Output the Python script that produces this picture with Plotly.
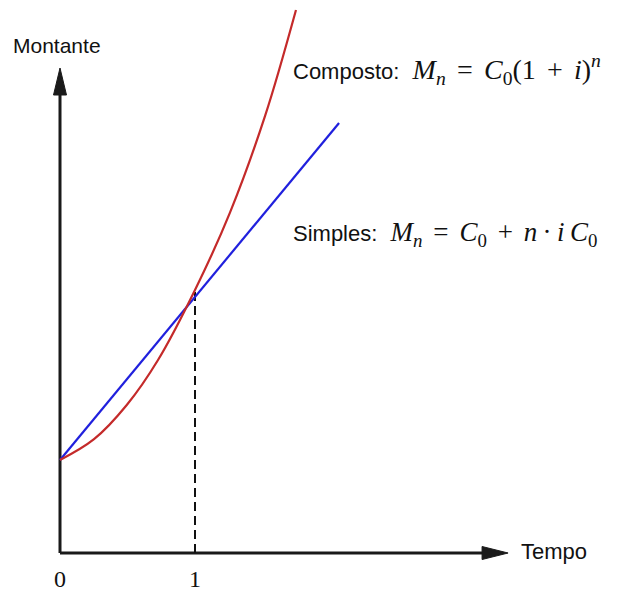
import plotly.graph_objects as go

# Data (time units, amount units with C0 = 1)
composto_t = [0.0, 0.252, 0.496, 0.726, 1.0, 1.259, 1.519, 1.748]
composto_m = [1.0, 1.224, 1.594, 2.075, 2.828, 3.66, 4.70, 5.839]
simples_t = [0.0, 2.067]
simples_m = [1.0, 4.624]
tick_vals = [0, 1]
tick_labels = ["0", "1"]
x_axis_end = 3.319
y_axis_end = 5.215

AX = "#1a1a1a"
fig = go.Figure()

# axes lines (end at arrow base)
fig.add_trace(go.Scatter(x=[0, x_axis_end - 0.15], y=[0, 0], mode="lines",
                         line=dict(color=AX, width=3), hoverinfo="skip", showlegend=False))
fig.add_trace(go.Scatter(x=[0, 0], y=[0, y_axis_end - 0.2], mode="lines",
                         line=dict(color=AX, width=3), hoverinfo="skip", showlegend=False))

# dashed line at t=1
fig.add_trace(go.Scatter(x=[1, 1], y=[0, composto_m[4]], mode="lines",
                         line=dict(color="#111111", width=2, dash="9px,5px"),
                         hoverinfo="skip", showlegend=False))

fig.add_trace(go.Scatter(x=simples_t, y=simples_m, mode="lines",
                         line=dict(color="#2020dd", width=2.2), showlegend=False))
fig.add_trace(go.Scatter(x=composto_t, y=composto_m, mode="lines",
                         line=dict(color="#c42a2a", width=2.2, shape="spline", smoothing=1.0),
                         showlegend=False))

# arrow heads as filled triangles
hx, hy = 26 / 135, 6.5 / 93
fig.add_shape(type="path", xref="x", yref="y",
              path=f"M {x_axis_end},0 L {x_axis_end - hx},{hy} L {x_axis_end - hx},{-hy} Z",
              fillcolor=AX, line=dict(color=AX, width=1))
vx, vy = 6.5 / 135, 27 / 93
fig.add_shape(type="path", xref="x", yref="y",
              path=f"M 0,{y_axis_end} L {vx},{y_axis_end - vy} L {-vx},{y_axis_end - vy} Z",
              fillcolor=AX, line=dict(color=AX, width=1))

sans = "Liberation Sans, Arial, sans-serif"
serif = "Liberation Serif, DejaVu Serif, serif"

fig.add_annotation(x=-0.022, y=5.462, text="Montante", showarrow=False,
                   font=dict(family=sans, size=21, color="#111111"))
fig.add_annotation(x=3.40, y=0.02, text="Tempo", showarrow=False, xanchor="left",
                   font=dict(family=sans, size=22, color="#111111"))

for v, lab in zip(tick_vals, tick_labels):
    fig.add_annotation(x=v, y=-0.28, text=lab, showarrow=False,
                       font=dict(family=serif, size=24, color="#111111"))

sp = "\u2009\u2009"
t1 = "\u2009"
comp = ("Composto:\u2009\u2009\u2009<span style='font-family:Liberation Serif;font-size:28px'>"
        f"<i>M</i><sub><i>n</i></sub>{sp}={sp}<i>C</i><sub>0</sub>(1{sp}+{sp}<i>i</i>)<sup><i>n</i></sup></span>")
simp = ("Simples:\u2009\u2009\u2009<span style='font-family:Liberation Serif;font-size:27px'>"
        f"<i>M</i><sub><i>n</i></sub>{sp}={sp}<i>C</i><sub>0</sub>{sp}+{sp}<i>n</i>{t1}·{t1}<i>i</i>{t1}<i>C</i><sub>0</sub></span>")
fig.add_annotation(x=1.711, y=5.204, text=comp, showarrow=False, xanchor="left",
                   font=dict(family=sans, size=22, color="#111111"))
fig.add_annotation(x=1.711, y=3.43, text=simp, showarrow=False, xanchor="left",
                   font=dict(family=sans, size=22, color="#111111"))

# page has an 8px body margin: data 0 sits at page (60, 553)
fig.update_xaxes(range=[-52 / 135, 557 / 135], visible=False, fixedrange=True)
fig.update_yaxes(range=[-41 / 93, 545 / 93], visible=False, fixedrange=True)
fig.update_layout(width=609, height=586, margin=dict(l=0, r=0, t=0, b=0),
                  paper_bgcolor="white", plot_bgcolor="white", showlegend=False)

fig.write_html("out.html")
